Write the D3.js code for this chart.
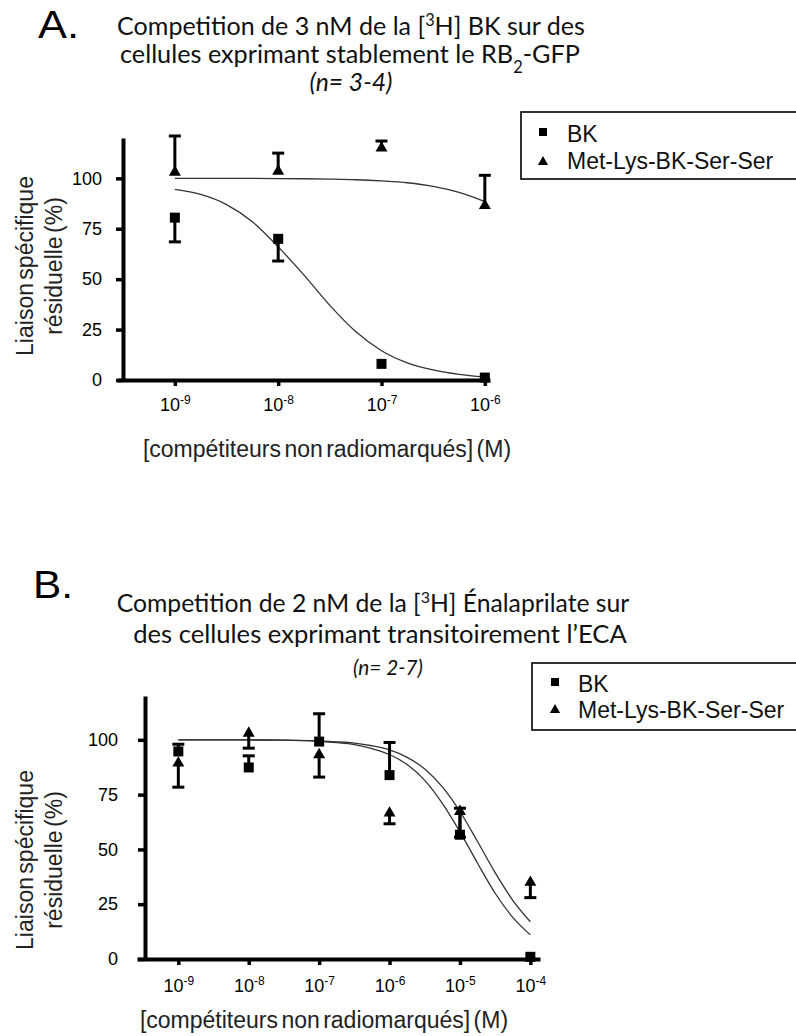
<!DOCTYPE html>
<html><head><meta charset="utf-8">
<script src="https://cdn.jsdelivr.net/npm/d3@7"></script>
<style>body{margin:0;background:#fff} svg{display:block}</style>
</head><body>
<svg id="c" width="796" height="1036"></svg>
<script>
// ---------- DATA ----------
// Panel A
const concA = [1e-9, 1e-8, 1e-7, 1e-6];
const tickLabelsA = ["10^{-9}", "10^{-8}", "10^{-7}", "10^{-6}"];
const bkA = [80.5, 70, 8, 1.2];
const bkAErrLow = [68.5, 59, null, null];
const bkAErrHigh = [null, null, null, null];
const metA = [103, 103.5, 115, 86.5];
const metAErrLow = [null, null, null, null];
const metAErrHigh = [121, 112.5, 118.5, 101.5];
const fitLogXA = [-9, -8.75, -8.5, -8.25, -8, -7.75, -7.5, -7.25, -7, -6.75, -6.5, -6.25, -6];
const bkAFit = [94.5, 92, 87, 78.5, 66, 52, 37, 24, 14.5, 8.5, 5, 2.8, 1.5];
const metAFit = [100, 99.98, 99.96, 99.94, 99.9, 99.8, 99.6, 99.3, 98.7, 97.8, 96, 93, 88.5];

// Panel B
const concB = [1e-9, 1e-8, 1e-7, 1e-6, 1e-5, 1e-4];
const tickLabelsB = ["10^{-9}", "10^{-8}", "10^{-7}", "10^{-6}", "10^{-5}", "10^{-4}"];
const bkB = [94.7, 87.4, 99.2, 83.9, 56.7, 1];
const bkBErrLow = [null, null, null, null, null, null];
const bkBErrHigh = [98, 92.7, 111.9, 98.8, 68.8, null];
const metB = [89.4, 103, 93.2, 66.6, 67.3, 35];
const metBErrLow = [78.4, 96.2, 83, 61.7, 55.6, 28];
const metBErrHigh = [null, null, null, null, null, null];
const fitLogXB = [-9, -8.5, -8, -7.5, -7, -6.75, -6.5, -6.25, -6, -5.75, -5.5, -5.25, -5, -4.75, -4.5, -4.25, -4];
const bkBFit = [100, 99.98, 99.95, 99.85, 99.3, 98.7, 97.8, 96, 93.3, 88.7, 81.5, 71, 58, 43.7, 30, 19, 11];
const metBFit = [100, 99.99, 99.95, 99.85, 99.5, 99.1, 98.5, 97.3, 95.4, 92, 86.7, 78.5, 67.3, 53.6, 39.4, 26.8, 17];

const yTicks = [0, 25, 50, 75, 100];
const seriesNames = ["BK", "Met-Lys-BK-Ser-Ser"];
const titleA = ["Competition de 3 nM de la [^{3}H] BK sur des", "cellules exprimant stablement le RB_{2}-GFP", "(n= 3-4)"];
const titleB = ["Competition de 2 nM de la [^{3}H] Énalaprilate sur", "des cellules exprimant transitoirement l’ECA", "(n= 2-7)"];
const yTitle = ["Liaison spécifique", "résiduelle (%)"];
const xTitle = "[compétiteurs non radiomarqués]  (M)";

// ---------- DRAWING ----------
const svg = d3.select("#c");
const ARIAL = "'Liberation Sans', Arial, sans-serif";
const TITLEF = "Lato, 'Open Sans', sans-serif";

function rich(sel, str, supSize) {
  const parts = str.split(/(\^\{[^}]*\}|_\{[^}]*\})/);
  parts.forEach(p => {
    if (!p) return;
    if (p.startsWith("^{")) sel.append("tspan").attr("baseline-shift", "super").attr("font-size", supSize).text(p.slice(2, -1));
    else if (p.startsWith("_{")) sel.append("tspan").attr("baseline-shift", "sub").attr("font-size", supSize).text(p.slice(2, -1));
    else sel.append("tspan").text(p);
  });
  return sel;
}
function fit(t, width, base) {
  const w = t.node().getComputedTextLength();
  t.attr("font-size", base * width / w);
}

function drawPanel(cfg) {
  const g = svg.append("g");
  const x = d3.scaleLog().domain(cfg.xDomain).range(cfg.xRange);
  const y = d3.scaleLinear().domain([0, 120]).range(cfg.yRange);

  // letter
  g.append("text").attr("x", cfg.letter.x).attr("y", cfg.letter.y)
    .attr("font-family", ARIAL).attr("font-size", 38)
    .attr("textLength", cfg.letter.w).attr("lengthAdjust", "spacingAndGlyphs")
    .text(cfg.letter.text);

  // title lines
  cfg.title.forEach((s, i) => {
    const L = cfg.titleLines[i];
    const t = g.append("text").attr("x", L.cx).attr("y", L.y).attr("text-anchor", "middle")
      .attr("font-family", TITLEF).attr("font-size", 21).attr("fill", "#111")
      .attr("font-style", i === 2 ? "italic" : "normal");
    rich(t, s, "65%");
    fit(t, L.w, 21);
  });

  // x axis
  const xAxis = g.append("g").attr("transform", `translate(0,${cfg.yRange[0]})`)
    .call(d3.axisBottom(x).tickValues(cfg.conc).tickSize(6).tickSizeOuter(0).tickFormat(() => ""));
  xAxis.select(".domain").attr("stroke-width", 4).attr("stroke", "#000");
  xAxis.selectAll(".tick line").attr("stroke-width", 3.5).attr("stroke", "#000");
  xAxis.selectAll(".tick").each(function (d, i) {
    const t = d3.select(this).append("text").attr("y", cfg.tickLabelDy).attr("dy", 0)
      .attr("fill", "#000").attr("text-anchor", "middle")
      .attr("font-family", ARIAL).attr("font-size", 18);
    rich(t, cfg.tickLabels[i], 12);
  });

  // y axis
  const yAxis = g.append("g").attr("transform", `translate(${cfg.yAxisX},0)`)
    .call(d3.axisLeft(y).tickValues(yTicks).tickSize(7).tickSizeOuter(0).tickPadding(cfg.yPad));
  yAxis.select(".domain").attr("stroke-width", 4).attr("stroke", "#000");
  yAxis.selectAll(".tick line").attr("stroke-width", 3.5).attr("stroke", "#000");
  yAxis.selectAll(".tick text").attr("font-family", ARIAL).attr("font-size", 18).attr("fill", "#000");

  // axis titles
  const ycy = cfg.yTitleCy;
  yTitle.forEach((s, i) => {
    g.append("text").attr("transform", `translate(${cfg.yTitleX[i]},${ycy}) rotate(-90)`)
      .attr("text-anchor", "middle").attr("font-family", ARIAL).attr("font-size", 23)
      .attr("word-spacing", "-3px").attr("fill", "#222").text(s);
  });
  g.append("text").attr("x", cfg.xTitle.cx).attr("y", cfg.xTitle.y).attr("text-anchor", "middle")
    .attr("font-family", ARIAL).attr("font-size", 23).attr("word-spacing", "-3px").attr("fill", "#222").text(xTitle);

  // fitted curves
  const line = d3.line().x(d => x(Math.pow(10, d[0]))).y(d => y(d[1])).curve(d3.curveMonotoneX);
  cfg.fits.forEach(f => {
    g.append("path").attr("d", line(cfg.fitX.map((v, i) => [v, f[i]])))
      .attr("fill", "none").attr("stroke", "#333").attr("stroke-width", 1.3);
  });

  // error bars
  const cap = 6;
  cfg.series.forEach(s => {
    s.vals.forEach((v, i) => {
      [s.lo[i], s.hi[i]].forEach(e => {
        if (e == null) return;
        const cx = x(cfg.conc[i]);
        g.append("line").attr("x1", cx).attr("x2", cx).attr("y1", y(v)).attr("y2", y(e))
          .attr("stroke", "#000").attr("stroke-width", 3);
        g.append("line").attr("x1", cx - cap).attr("x2", cx + cap).attr("y1", y(e)).attr("y2", y(e))
          .attr("stroke", "#000").attr("stroke-width", 3);
      });
    });
  });
  // markers
  cfg.series.forEach(s => {
    g.selectAll(null).data(s.vals).enter().append("path")
      .attr("transform", (v, i) => `translate(${x(cfg.conc[i])},${y(v)})`)
      .attr("d", d3.symbol().type(s.type).size(s.size)).attr("fill", "#000");
  });

  // legend
  const lg = cfg.legend;
  g.append("rect").attr("x", lg.x).attr("y", lg.y).attr("width", 300).attr("height", lg.h)
    .attr("fill", "none").attr("stroke", "#000").attr("stroke-width", 1.6);
  seriesNames.forEach((n, i) => {
    const type = i === 0 ? d3.symbolSquare : d3.symbolTriangle;
    g.append("path").attr("transform", `translate(${lg.mx},${lg.my[i]})`)
      .attr("d", d3.symbol().type(type).size(i === 0 ? 64 : 45)).attr("fill", "#000");
    g.append("text").attr("x", lg.tx).attr("y", lg.ty[i]).attr("font-family", ARIAL)
      .attr("font-size", 23).attr("fill", "#111").text(n);
  });
}

drawPanel({
  letter: {text: "A.", x: 38, y: 38, w: 41},
  title: titleA,
  titleLines: [{cx: 351, y: 35, w: 468}, {cx: 350, y: 63, w: 460}, {cx: 351, y: 91, w: 83}],
  conc: concA, tickLabels: tickLabelsA,
  xDomain: [Math.pow(10, -9.56), Math.pow(10, -5.95)], xRange: [117, 490],
  yRange: [380, 138], yAxisX: 123, yPad: 14, tickLabelDy: 31,
  yTitleX: [33, 62], yTitleCy: 266,
  xTitle: {cx: 327, y: 457},
  fitX: fitLogXA, fits: [bkAFit, metAFit],
  series: [
    {vals: bkA, lo: bkAErrLow, hi: bkAErrHigh, type: d3.symbolSquare, size: 100},
    {vals: metA, lo: metAErrLow, hi: metAErrHigh, type: d3.symbolTriangle, size: 62}
  ],
  legend: {x: 521, y: 112, h: 67, mx: 543, my: [132, 162], tx: 567, ty: [141.5, 168.5]}
});

drawPanel({
  letter: {text: "B.", x: 33, y: 598, w: 40},
  title: titleB,
  titleLines: [{cx: 373, y: 612, w: 513}, {cx: 380, y: 643, w: 494}, {cx: 388, y: 675, w: 70}],
  conc: concB, tickLabels: tickLabelsB,
  xDomain: [Math.pow(10, -9.587), Math.pow(10, -3.863)], xRange: [137, 540],
  yRange: [959, 696], yAxisX: 145, yPad: 20, tickLabelDy: 33,
  yTitleX: [33, 62], yTitleCy: 860,
  xTitle: {cx: 324, y: 1028},
  fitX: fitLogXB, fits: [bkBFit, metBFit],
  series: [
    {vals: bkB, lo: bkBErrLow, hi: bkBErrHigh, type: d3.symbolSquare, size: 100},
    {vals: metB, lo: metBErrLow, hi: metBErrHigh, type: d3.symbolTriangle, size: 62}
  ],
  legend: {x: 532, y: 663, h: 67, mx: 555, my: [682, 710], tx: 578, ty: [691.5, 718]}
});
</script>
</body></html>
